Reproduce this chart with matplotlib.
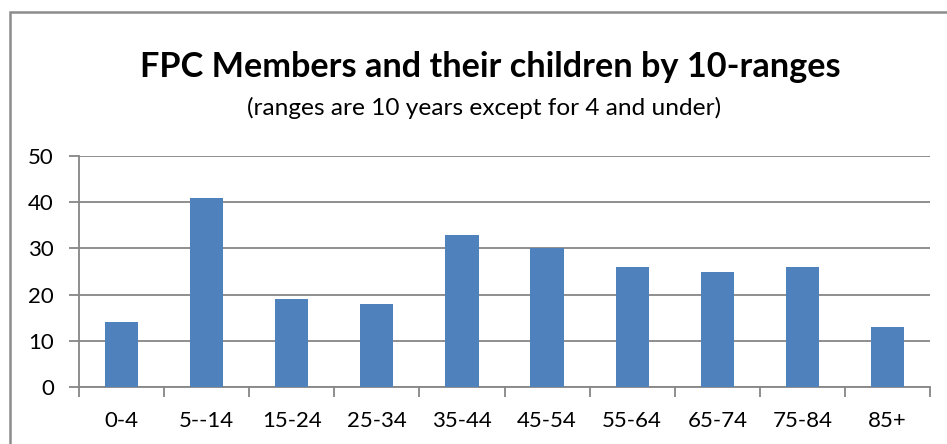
import matplotlib
matplotlib.use("Agg")
import matplotlib.pyplot as plt
from matplotlib.patches import Rectangle
import numpy as np

categories = ["0-4", "5--14", "15-24", "25-34", "35-44", "45-54", "55-64", "65-74", "75-84", "85+"]
values = [14, 41, 19, 18, 33, 30, 26, 25, 26, 13]
yticks = [0, 10, 20, 30, 40, 50]

plt.rcParams['font.family'] = ['Lato', 'DejaVu Sans']

W, H = 947, 444
fig = plt.figure(figsize=(W / 100, H / 100), dpi=100)

# outer chart frame
fig.patches.append(Rectangle((10 / W, -0.1), 1.2, (H - 12) / H + 0.1, transform=fig.transFigure,
                             fill=False, edgecolor='#8c8c8c', linewidth=1.8, zorder=0))

left, right = 79 / W, 930 / W
bottom, top = 1 - 387 / H, 1 - 156 / H
ax = fig.add_axes([left, bottom, right - left, top - bottom])

x = np.arange(len(categories))
ax.bar(x, values, width=0.39, color='#4F81BD', zorder=3)
ax.set_xlim(-0.5, len(categories) - 0.5)
ax.set_ylim(0, 50)
ax.set_yticks(yticks)
ax.set_yticklabels([str(v) for v in yticks], fontsize=16)
ax.yaxis.grid(True, color='#868686', linewidth=1.3, zorder=0)
ax.set_axisbelow(True)

ax.set_xticks(x)
ax.set_xticklabels(categories, fontsize=16)
ax.tick_params(axis='x', length=0, pad=17)
ax.set_xticks(np.arange(-0.5, len(categories)), minor=True)
ax.tick_params(axis='x', which='minor', length=7, width=1.3, color='#868686')
ax.tick_params(axis='y', length=7, width=1.3, color='#868686', pad=11)

for s in ['top', 'right']:
    ax.spines[s].set_visible(False)
for s in ['left', 'bottom']:
    ax.spines[s].set_color('#868686')
    ax.spines[s].set_linewidth(1.3)

fig.text(490 / W, 1 - 77 / H, "FPC Members and their children by 10-ranges",
         ha='center', va='baseline', fontsize=24.7, fontweight='bold')
fig.text(484 / W, 1 - 115 / H, "(ranges are 10 years except for 4 and under)",
         ha='center', va='baseline', fontsize=17.6)

fig.savefig("out.png", dpi=100)
